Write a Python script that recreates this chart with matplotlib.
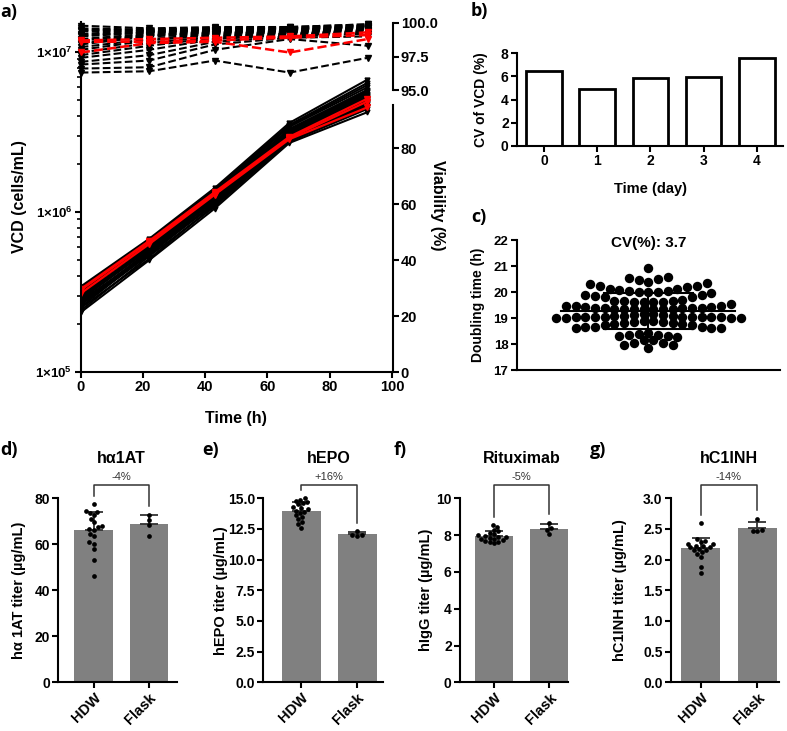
import numpy as np
import matplotlib
matplotlib.use("Agg")
import matplotlib.pyplot as plt
from matplotlib.ticker import FixedLocator, FuncFormatter, LogLocator, NullFormatter, FormatStrFormatter

# ---------------- data ----------------
# a) VCD and viability, one list per sampling time (each entry = one well)
time_h = [0, 22, 43, 67, 92]

vcd_hdw_t0 = [2.36e5, 2.42e5, 2.51e5, 2.55e5, 2.63e5, 2.66e5, 2.71e5, 2.78e5, 2.82e5, 2.87e5,
              2.93e5, 2.95e5, 3.02e5, 3.06e5, 3.11e5, 3.17e5, 3.22e5, 3.28e5, 3.35e5, 3.42e5]
vcd_hdw_t22 = [5.0e5, 5.3e5, 5.1e5, 5.5e5, 5.4e5, 5.6e5, 5.7e5, 5.5e5, 5.9e5, 5.8e5,
               6.0e5, 6.1e5, 5.9e5, 6.3e5, 6.2e5, 6.4e5, 6.5e5, 6.3e5, 6.6e5, 6.8e5]
vcd_hdw_t43 = [1.05e6, 1.08e6, 1.10e6, 1.12e6, 1.15e6, 1.13e6, 1.18e6, 1.20e6, 1.17e6, 1.22e6,
               1.25e6, 1.23e6, 1.27e6, 1.30e6, 1.28e6, 1.32e6, 1.34e6, 1.36e6, 1.38e6, 1.41e6]
vcd_hdw_t67 = [2.70e6, 2.80e6, 2.75e6, 2.90e6, 2.95e6, 2.85e6, 3.00e6, 3.05e6, 3.10e6, 2.98e6,
               3.15e6, 3.20e6, 3.12e6, 3.25e6, 3.30e6, 3.28e6, 3.40e6, 3.45e6, 3.50e6, 3.60e6]
vcd_hdw_t92 = [4.2e6, 4.5e6, 4.4e6, 4.7e6, 4.8e6, 4.6e6, 5.0e6, 5.1e6, 5.2e6, 4.9e6,
               5.4e6, 5.5e6, 5.3e6, 5.6e6, 5.8e6, 5.7e6, 6.0e6, 6.2e6, 6.4e6, 6.7e6]

vcd_flask_t0 = [3.10e5, 3.25e5, 3.30e5]
vcd_flask_t22 = [6.3e5, 6.5e5, 6.6e5]
vcd_flask_t43 = [1.28e6, 1.30e6, 1.33e6]
vcd_flask_t67 = [2.85e6, 2.90e6, 2.95e6]
vcd_flask_t92 = [4.5e6, 4.9e6, 5.1e6]

via_hdw_t0 = [96.3, 96.6, 96.9, 97.1, 97.4, 97.6, 97.8, 98.0, 98.2, 98.4,
              98.5, 98.7, 98.8, 99.0, 99.1, 99.2, 99.4, 99.5, 99.6, 99.8]
via_hdw_t22 = [96.4, 96.7, 97.2, 97.6, 98.0, 98.3, 98.5, 98.7, 98.8, 99.0,
               99.1, 99.1, 99.2, 99.3, 99.3, 99.4, 99.4, 99.5, 99.5, 99.6]
via_hdw_t43 = [97.2, 98.0, 98.4, 98.6, 98.8, 98.9, 99.0, 99.1, 99.2, 99.2,
               99.3, 99.3, 99.4, 99.4, 99.5, 99.5, 99.5, 99.6, 99.6, 99.7]
via_hdw_t67 = [96.3, 98.8, 98.9, 99.0, 99.1, 99.1, 99.2, 99.2, 99.3, 99.3,
               99.4, 99.4, 99.4, 99.5, 99.5, 99.5, 99.6, 99.6, 99.7, 99.7]
via_hdw_t92 = [97.4, 98.3, 99.0, 99.2, 99.3, 99.4, 99.4, 99.5, 99.5, 99.6,
               99.6, 99.6, 99.7, 99.7, 99.7, 99.8, 99.8, 99.8, 99.9, 99.9]

via_flask_t0 = [98.6, 97.8, 98.7]
via_flask_t22 = [98.6, 98.5, 98.8]
via_flask_t43 = [98.7, 98.6, 98.9]
via_flask_t67 = [98.9, 97.8, 99.0]
via_flask_t92 = [99.1, 98.8, 99.3]

# b) CV of VCD per day
days = [0, 1, 2, 3, 4]
cv_vcd = [6.5, 4.9, 5.9, 5.95, 7.55]

# c) doubling times of all wells
dt_row1 = [20.93]
dt_row2 = [20.59, 20.49, 20.40, 20.46, 20.55]
dt_row3 = [20.31, 20.23, 20.24, 20.36, 20.20, 20.10, 20.08, 20.00, 20.02, 19.99, 20.01, 20.05, 20.10]
dt_row4 = [19.90, 19.85, 19.80, 19.82, 19.88, 19.95, 19.66, 19.62, 19.60, 19.63, 19.61, 19.64, 19.66, 19.70]
dt_row5 = [19.48, 19.45, 19.44, 19.40, 19.38, 19.36, 19.35, 19.35, 19.34, 19.35,
           19.36, 19.36, 19.37, 19.38, 19.40, 19.44, 19.46, 19.52]
dt_row6 = [19.14, 19.13, 19.08, 19.05, 19.04, 19.03, 19.02, 19.02, 19.01, 19.00,
           19.00, 19.01, 19.02, 19.03, 19.04, 19.05, 19.06, 19.08, 19.10, 19.14]
dt_row7 = [18.88, 18.84, 18.82, 18.78, 18.74, 18.72, 18.76, 18.80, 18.84, 18.88,
           18.66, 18.60, 18.62, 18.60, 18.65, 18.66]
dt_row8 = [18.40, 18.33, 18.28, 18.30, 18.31, 18.36, 18.42]
dt_row9 = [18.14, 18.02, 17.96, 17.95, 18.02, 18.15]
dt_row10 = [17.86]
cv_text = "CV(%): 3.7"

# d-g) titers
groups = ["HDW", "Flask"]
a1at_hdw = [77.4, 74.5, 74.0, 73.8, 72.6, 71.2, 69.7, 67.8, 67.5, 66.8, 66.4, 64.6, 63.5, 61.0, 60.3, 57.8, 53.0, 46.2]
a1at_flask = [72.9, 70.7, 68.5, 63.5]
epo_hdw = [15.0, 14.9, 14.8, 14.7, 14.6, 14.5, 14.3, 14.2, 14.1, 14.0, 13.9, 13.8, 13.6, 13.5, 13.3, 13.1, 12.9, 12.6]
epo_flask = [12.35, 12.0, 11.98, 11.95]
igg_hdw = [8.55, 8.45, 8.3, 8.2, 8.1, 8.05, 8.0, 7.95, 7.9, 7.9, 7.85, 7.8, 7.8, 7.75, 7.7, 7.65, 7.6, 7.55]
igg_flask = [8.68, 8.38, 8.29, 8.07]
c1inh_hdw = [2.6, 2.33, 2.3, 2.28, 2.26, 2.25, 2.23, 2.22, 2.2, 2.2, 2.18, 2.16, 2.15, 2.12, 2.1, 2.05, 1.88, 1.78]
c1inh_flask = [2.67, 2.48, 2.46, 2.47]
titles = ["hα1AT", "hEPO", "Rituximab", "hC1INH"]
ylabels = ["hα 1AT titer (µg/mL)", "hEPO titer (µg/mL)", "hIgG titer (µg/mL)", "hC1INH titer (µg/mL)"]
diffs = ["-4%", "+16%", "-5%", "-14%"]
yticks_list = [[0, 20, 40, 60, 80], [0, 2.5, 5, 7.5, 10, 12.5, 15], [0, 2, 4, 6, 8, 10], [0, 0.5, 1, 1.5, 2, 2.5, 3]]

# ---------------- style ----------------
plt.rcParams["font.family"] = ["Liberation Sans", "DejaVu Sans"]
plt.rcParams["font.weight"] = "bold"
plt.rcParams["axes.labelweight"] = "bold"
plt.rcParams["mathtext.fontset"] = "custom"
plt.rcParams["mathtext.rm"] = "Liberation Sans:bold"
plt.rcParams["mathtext.it"] = "Liberation Sans:bold"
plt.rcParams["mathtext.bf"] = "Liberation Sans:bold"
plt.rcParams["axes.linewidth"] = 1.5
for a in ("xtick", "ytick"):
    plt.rcParams[a + ".major.width"] = 1.5
    plt.rcParams[a + ".minor.width"] = 1.2
    plt.rcParams[a + ".major.size"] = 4
    plt.rcParams[a + ".minor.size"] = 3
    plt.rcParams[a + ".major.pad"] = 2

W, H = 787, 731
fig = plt.figure(figsize=(W / 100, H / 100), dpi=100)


def box(l, t, r, b):
    return [l / W, 1 - b / H, (r - l) / W, (b - t) / H]


def swarm(vals, px_per_unit, diam):
    # simple beeswarm: x offsets (px) so that dots do not overlap
    ys = np.asarray(vals, float) * px_per_unit
    xs = np.zeros(len(ys))
    px_, py_ = [], []
    for i in np.argsort(ys):
        y = ys[i]
        cands = [0.0]
        for qx, qy in zip(px_, py_):
            dy = abs(qy - y)
            if dy < diam:
                dx = np.sqrt(diam ** 2 - dy ** 2)
                cands += [qx + dx, qx - dx]
        cands.sort(key=lambda c: (abs(c), c))
        for c in cands:
            if all((c - qx) ** 2 + (y - qy) ** 2 >= diam ** 2 - 1e-6 for qx, qy in zip(px_, py_)):
                break
        xs[i] = c
        px_.append(c)
        py_.append(y)
    return xs


def row_layout(row, above, step):
    # dots of one row side by side, filled from the centre outwards
    n = len(row)
    pos = (np.arange(n) - (n - 1) / 2) * step
    pos = pos[np.argsort(np.abs(pos), kind="stable")]
    vals = sorted(row) if above else sorted(row, reverse=True)
    return pos, vals


def letter(x, y, s):
    fig.text(x / W, 1 - y / H, s, fontsize=13, fontweight="bold", family=["Open Sans", "DejaVu Sans"],
             va="center", ha="left")


# ---------------- a) ----------------
ax = fig.add_axes(box(80.7, 22, 392, 372))
ax.set_yscale("log")
vcd_hdw = [vcd_hdw_t0, vcd_hdw_t22, vcd_hdw_t43, vcd_hdw_t67, vcd_hdw_t92]
vcd_flask = [vcd_flask_t0, vcd_flask_t22, vcd_flask_t43, vcd_flask_t67, vcd_flask_t92]
for i in range(len(vcd_hdw_t0)):
    ax.plot(time_h, [v[i] for v in vcd_hdw], color="k", lw=1.5, marker="v", ms=3.5)
for i in range(len(vcd_flask_t0)):
    ax.plot(time_h, [v[i] for v in vcd_flask], color="#ff0000", lw=1.6, marker="v", ms=4)
ax.set_xlim(0, 100)
ax.set_ylim(1e5, 10 ** 7.1875)
ax.set_xticks([0, 20, 40, 60, 80, 100])
ax.yaxis.set_major_locator(FixedLocator([1e5, 1e6, 1e7]))
ax.yaxis.set_minor_locator(LogLocator(base=10, subs=np.arange(2, 10)))
ax.yaxis.set_minor_formatter(NullFormatter())
ax.yaxis.set_major_formatter(FuncFormatter(lambda v, p: r"$1{\times}10^{%d}$" % round(np.log10(v))))
ax.tick_params(axis="y", labelsize=9.5)
ax.tick_params(axis="x", labelsize=10.5)
ax.spines["top"].set_visible(False)
ax.spines["right"].set_visible(False)
ax.set_xlabel("Time (h)", fontsize=11.5)
ax.xaxis.set_label_coords(0.5, -0.11)
ax.set_ylabel("VCD (cells/mL)", fontsize=11.5)
ax.yaxis.set_label_coords(-0.172, 0.5)

via_hdw = [via_hdw_t0, via_hdw_t22, via_hdw_t43, via_hdw_t67, via_hdw_t92]
via_flask = [via_flask_t0, via_flask_t22, via_flask_t43, via_flask_t67, via_flask_t92]
axt = fig.add_axes(box(80.7, 23, 392.5, 90))
axt.patch.set_visible(False)
for i in range(len(via_hdw_t0)):
    axt.plot(time_h, [v[i] for v in via_hdw], color="k", lw=1.5, ls="--", marker="v", ms=4.5, clip_on=False)
for i in range(len(via_flask_t0)):
    axt.plot(time_h, [v[i] for v in via_flask], color="#ff0000", lw=1.8, ls="--", marker="v", ms=5, clip_on=False)
axt.set_xlim(0, 100)
axt.set_ylim(95, 100)
axt.set_xticks([])
for s in ("left", "top", "bottom"):
    axt.spines[s].set_visible(False)
axt.yaxis.tick_right()
axt.set_yticks([95, 97.5, 100])
axt.yaxis.set_major_formatter(FormatStrFormatter("%.1f"))
axt.tick_params(axis="y", labelsize=10.5)

axv = fig.add_axes(box(80.7, 105, 392.5, 372))
axv.patch.set_visible(False)
axv.set_xlim(0, 100)
axv.set_ylim(0, 95.4)
axv.set_xticks([])
for s in ("left", "top", "bottom"):
    axv.spines[s].set_visible(False)
axv.yaxis.tick_right()
axv.set_yticks([0, 20, 40, 60, 80])
axv.tick_params(axis="y", labelsize=10.5)
fig.text(437 / W, 1 - 205 / H, "Viability (%)", rotation=270, fontsize=11.5, fontweight="bold",
         ha="center", va="center")

# ---------------- b) ----------------
axb = fig.add_axes(box(517, 53.3, 783.3, 145.7))
axb.bar(days, cv_vcd, width=0.67, color="white", edgecolor="k", lw=2)
axb.set_xlim(-0.51, 4.5)
axb.set_ylim(0, 8)
axb.set_yticks([0, 2, 4, 6, 8])
axb.set_xticks(days)
axb.spines["top"].set_visible(False)
axb.spines["right"].set_visible(False)
axb.tick_params(labelsize=10)
axb.set_ylabel("CV of VCD (%)", fontsize=10)
axb.yaxis.set_label_coords(-0.11, 0.5)
axb.set_xlabel("Time (day)", fontsize=10.5)
axb.xaxis.set_label_coords(0.5, -0.39)

# ---------------- c) ----------------
axc = fig.add_axes(box(516.7, 240, 780, 370))
c_ppu_x = 263.3 / 2.0
dt_rows = [dt_row1, dt_row2, dt_row3, dt_row4, dt_row5, dt_row6, dt_row7, dt_row8, dt_row9, dt_row10]
dt_all = np.concatenate(dt_rows)
m = np.mean(dt_all)
sd = np.std(dt_all, ddof=1)
for row in dt_rows:
    pos, vals = row_layout(row, np.mean(row) > m, 9.7)
    axc.plot(pos / c_ppu_x, vals, "o", color="k", ms=6.8, mew=0, clip_on=False)
axc.plot([-0.66, 0.66], [m, m], color="k", lw=1.5)
axc.plot([0, 0], [m - sd, m + sd], color="k", lw=1.5)
axc.plot([-0.34, 0.34], [m + sd, m + sd], color="k", lw=1.5)
axc.plot([-0.34, 0.34], [m - sd, m - sd], color="k", lw=1.5)
axc.set_xlim(-1, 1)
axc.set_ylim(17, 22)
axc.set_xticks([])
axc.set_yticks([17, 18, 19, 20, 21, 22])
axc.spines["top"].set_visible(False)
axc.spines["right"].set_visible(False)
axc.tick_params(labelsize=9.5)
axc.set_ylabel("Doubling time (h)", fontsize=10)
axc.yaxis.set_label_coords(-0.12, 0.5)
axc.text(0, 21.87, cv_text, ha="center", va="center", fontsize=11, fontweight="bold")

# ---------------- d-g) ----------------
titer_hdw = [a1at_hdw, epo_hdw, igg_hdw, c1inh_hdw]
titer_flask = [a1at_flask, epo_flask, igg_flask, c1inh_flask]
panel_box = [(58.3, 176.7), (263.3, 383.3), (460, 568), (671, 779)]
panel_xlim = [(-0.64, 1.5), (-0.68, 1.47), (-0.62, 1.34), (-0.52, 1.38)]
panel_lab = [-0.27, -0.29, -0.25, -0.41]
for k in range(4):
    l, r = panel_box[k]
    axk = fig.add_axes(box(l, 498.3, r, 682.3))
    ymax = yticks_list[k][-1]
    ppu_y = 184.0 / ymax
    ppu_x = (r - l) / (panel_xlim[k][1] - panel_xlim[k][0])
    tops = []
    for j, vals in enumerate([titer_hdw[k], titer_flask[k]]):
        mean = np.mean(vals)
        sdv = np.std(vals, ddof=1)
        axk.bar(j, mean, width=0.7, color="#808080", zorder=1)
        axk.errorbar(j, mean, yerr=[[0], [sdv]], color="#333333", lw=1.3, capsize=6.5, capthick=1.3, zorder=2)
        xo = swarm(vals, ppu_y, 4.6) / ppu_x
        axk.plot(j + xo, vals, "o", color="k", ms=3.4, mew=0, zorder=3, clip_on=False)
        tops.append(max(max(vals), mean + sdv) + 0.045 * ymax)
    yb = 1.075 * ymax
    axk.plot([0, 0, 1, 1], [tops[0], yb, yb, tops[1]], color="#333333", lw=1.1, clip_on=False)
    axk.text(0.5, 1.118 * ymax, diffs[k], ha="center", va="center", fontsize=8, fontweight="normal",
             color="#333333")
    axk.text(0.5, 1.215 * ymax, titles[k], ha="center", va="center", fontsize=11.5, fontweight="bold")
    axk.set_xlim(*panel_xlim[k])
    axk.set_ylim(0, ymax)
    axk.set_yticks(yticks_list[k])
    if k in (1, 3):
        axk.yaxis.set_major_formatter(FormatStrFormatter("%.1f"))
    axk.set_xticks([0, 1])
    axk.set_xticklabels(groups, rotation=45, ha="right", rotation_mode="anchor")
    axk.spines["top"].set_visible(False)
    axk.spines["right"].set_visible(False)
    axk.tick_params(axis="y", labelsize=10)
    axk.tick_params(axis="x", labelsize=10.5)
    axk.set_ylabel(ylabels[k], fontsize=10.5)
    axk.yaxis.set_label_coords(panel_lab[k], 0.5)

letter(0, 12, "a)")
letter(471, 11, "b)")
letter(471, 217, "c)")
letter(0, 450, "d)")
letter(202, 450, "e)")
letter(394, 450, "f)")
letter(590, 450, "g)")

fig.savefig("out.png", dpi=100)
